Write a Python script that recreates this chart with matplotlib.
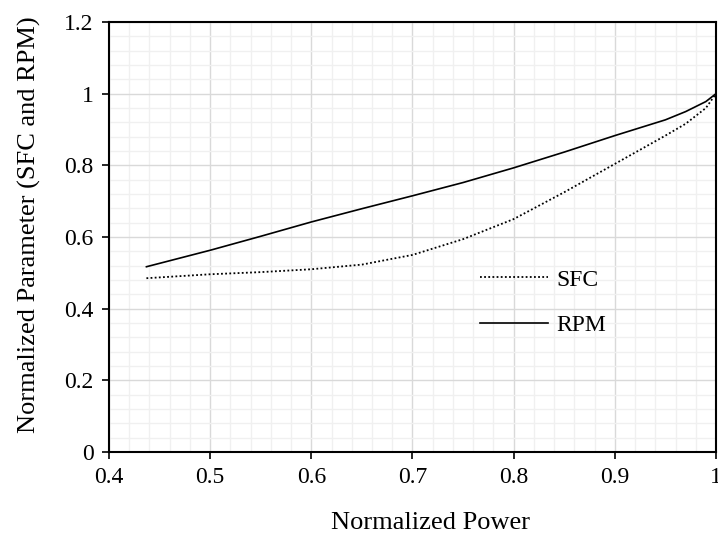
import matplotlib
matplotlib.use("Agg")
import matplotlib.pyplot as plt
from matplotlib.ticker import MultipleLocator, FormatStrFormatter

# data
power = [0.437, 0.5, 0.55, 0.6, 0.65, 0.7, 0.75, 0.8, 0.85, 0.9, 0.95, 0.97, 0.99, 1.0]
sfc = [0.485, 0.496, 0.502, 0.51, 0.523, 0.55, 0.594, 0.65, 0.725, 0.804, 0.883, 0.916, 0.96, 1.0]
rpm = [0.517, 0.563, 0.602, 0.642, 0.679, 0.715, 0.752, 0.793, 0.837, 0.883, 0.927, 0.95, 0.978, 1.0]

plt.rcParams['font.family'] = ['Liberation Serif', 'DejaVu Serif']

fig = plt.figure(figsize=(7.18, 5.37), dpi=100)
ax = fig.add_axes([0.1518, 0.1583, 0.8454, 0.8007])

ax.plot(power, sfc, color="black", linestyle=(0, (1, 1.3)), linewidth=1.3, label="SFC")
ax.plot(power, rpm, color="black", linestyle="-", linewidth=1.2, label="RPM")

ax.set_xlim(0.4, 1.0)
ax.set_ylim(0, 1.2)
ax.xaxis.set_major_locator(MultipleLocator(0.1))
ax.xaxis.set_minor_locator(MultipleLocator(0.02))
ax.yaxis.set_major_locator(MultipleLocator(0.2))
ax.yaxis.set_minor_locator(MultipleLocator(0.04))
ax.xaxis.set_major_formatter(FormatStrFormatter('%g'))
ax.yaxis.set_major_formatter(FormatStrFormatter('%g'))

ax.grid(which="major", color="#d9d9d9", linewidth=1.0)
ax.grid(which="minor", color="#f0f0f0", linewidth=1.0)
ax.set_axisbelow(True)

ax.tick_params(which="major", direction="out", length=5, width=1.2, labelsize=17, pad=6)
ax.tick_params(which="minor", length=0)
for s in ax.spines.values():
    s.set_linewidth(1.5)

ax.set_xlabel("Normalized Power", fontsize=19, labelpad=17)
ax.set_ylabel("Normalized Parameter (SFC and RPM)", fontsize=19, labelpad=17)
ax.xaxis.label.set_x(0.529)
ax.yaxis.label.set_y(0.528)

ax.legend(loc="upper left", bbox_to_anchor=(0.577, 0.475), frameon=False, fontsize=17,
          handlelength=2.85, handletextpad=0.38, labelspacing=1.02)

plt.savefig("out.png", dpi=100)
